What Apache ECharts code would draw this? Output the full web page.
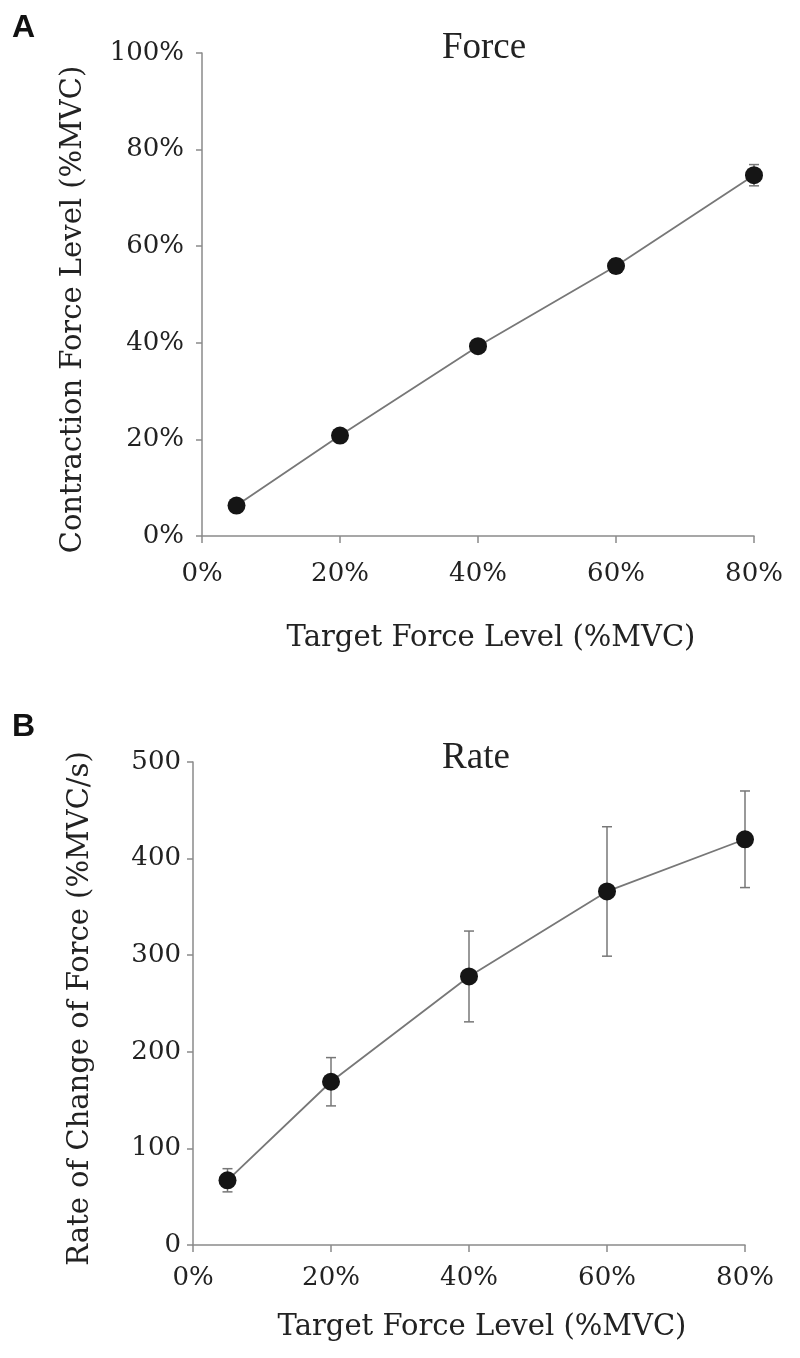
<!DOCTYPE html>
<html>
<head>
<meta charset="utf-8">
<script src="https://cdn.jsdelivr.net/npm/echarts@6/dist/echarts.min.js"></script>
<style>html,body{margin:0;padding:0;background:#fff}#c{width:800px;height:1358px}</style>
</head>
<body>
<div id="c"></div>
<script>
// ---- data ----
const targetLevels = [5, 20, 40, 60, 80];          // Target Force Level (%MVC)
const forceMean = [6.3, 20.8, 39.3, 55.9, 74.7];  // Contraction Force Level (%MVC)
const forceErr  = [1.0, 1.0, 1.0, 1.5, 2.2];
const rateMean  = [67, 169, 278, 366, 420];       // Rate of Change of Force (%MVC/s)
const rateErr   = [12, 25, 47, 67, 50];
const xTicks = [0, 20, 40, 60, 80];

const serif = 'DejaVu Serif';
const axisGray = '#8a8a8a';

function xAxisCfg(gridIndex, margin, nameGap) {
  return {
    type: 'value', gridIndex, min: 0, max: 80, interval: 20,
    name: 'Target Force Level (%MVC)', nameLocation: 'middle', nameGap,
    nameTextStyle: { fontFamily: serif, fontSize: 29, color: '#222', padding: [0, 0, 0, 26] },
    axisLine: { show: true, lineStyle: { color: axisGray, width: 1.5 } },
    axisTick: { show: true, inside: false, length: 7, lineStyle: { color: axisGray, width: 1.5 } },
    axisLabel: { fontFamily: serif, fontSize: 26, color: '#222', margin, formatter: '{value}%' },
    splitLine: { show: false }
  };
}
function yAxisCfg(gridIndex, max, interval, name, fmt, margin, nameGap, shiftPad) {
  return {
    type: 'value', gridIndex, min: 0, max, interval,
    name, nameLocation: 'middle', nameGap, nameRotate: 90,
    nameTextStyle: { fontFamily: serif, fontSize: 29, color: '#222', padding: [0, shiftPad, 0, 0] },
    axisLine: { show: true, lineStyle: { color: axisGray, width: 1.5 } },
    axisTick: { show: true, inside: false, length: 6, lineStyle: { color: axisGray, width: 1.5 } },
    axisLabel: { fontFamily: serif, fontSize: 26, color: '#222', margin, formatter: fmt },
    splitLine: { show: false }
  };
}

function errRender() {
  return function (params, api) {
    const x = api.value(0), m = api.value(1), e = api.value(2);
    const top = api.coord([x, m + e]);
    const bot = api.coord([x, m - e]);
    const hw = 5;
    const st = { stroke: '#777', lineWidth: 1.5 };
    return {
      type: 'group',
      children: [
        { type: 'line', shape: { x1: top[0], y1: top[1], x2: bot[0], y2: bot[1] }, style: st },
        { type: 'line', shape: { x1: top[0] - hw, y1: top[1], x2: top[0] + hw, y2: top[1] }, style: st },
        { type: 'line', shape: { x1: bot[0] - hw, y1: bot[1], x2: bot[0] + hw, y2: bot[1] }, style: st }
      ]
    };
  };
}

const forcePts = targetLevels.map((x, i) => [x, forceMean[i]]);
const ratePts = targetLevels.map((x, i) => [x, rateMean[i]]);
const forceErrData = targetLevels.map((x, i) => [x, forceMean[i], forceErr[i]]);
const rateErrData = targetLevels.map((x, i) => [x, rateMean[i], rateErr[i]]);

const chart = echarts.init(document.getElementById('c'), null, { renderer: 'canvas' });
chart.setOption({
  backgroundColor: '#fff',
  animation: false,
  grid: [
    { left: 202, right: 46, top: 53, height: 483 },
    { left: 193, right: 55, top: 762, height: 483 }
  ],
  xAxis: [xAxisCfg(0, 25, 88), xAxisCfg(1, 20, 68)],
  yAxis: [
    yAxisCfg(0, 100, 20, 'Contraction Force Level (%MVC)', '{value}%', 18, 114, 30),
    yAxisCfg(1, 500, 100, 'Rate of Change of Force (%MVC/s)', '{value}', 12, 98, 10)
  ],
  graphic: [
    { type: 'text', left: 12, top: 12, style: { text: 'A', font: 'bold 32px "Liberation Sans"', fill: '#111' } },
    { type: 'text', left: 12, top: 711, style: { text: 'B', font: 'bold 32px "Liberation Sans"', fill: '#111' } },
    { type: 'text', x: 484, y: 48, style: { text: 'Force', font: '37px "Liberation Serif"', fill: '#222', textAlign: 'center', textVerticalAlign: 'middle' } },
    { type: 'text', x: 476, y: 758, style: { text: 'Rate', font: '37px "Liberation Serif"', fill: '#222', textAlign: 'center', textVerticalAlign: 'middle' } }
  ],
  series: [
    { type: 'custom', xAxisIndex: 0, yAxisIndex: 0, data: forceErrData, renderItem: errRender(), z: 1 },
    { type: 'line', xAxisIndex: 0, yAxisIndex: 0, data: forcePts, symbol: 'circle', symbolSize: 18,
      itemStyle: { color: '#151515' }, lineStyle: { color: '#777', width: 1.8 }, z: 2 },
    { type: 'custom', xAxisIndex: 1, yAxisIndex: 1, data: rateErrData, renderItem: errRender(), z: 1 },
    { type: 'line', xAxisIndex: 1, yAxisIndex: 1, data: ratePts, symbol: 'circle', symbolSize: 18,
      itemStyle: { color: '#151515' }, lineStyle: { color: '#777', width: 1.8 }, z: 2 }
  ]
});
</script>
</body>
</html>
